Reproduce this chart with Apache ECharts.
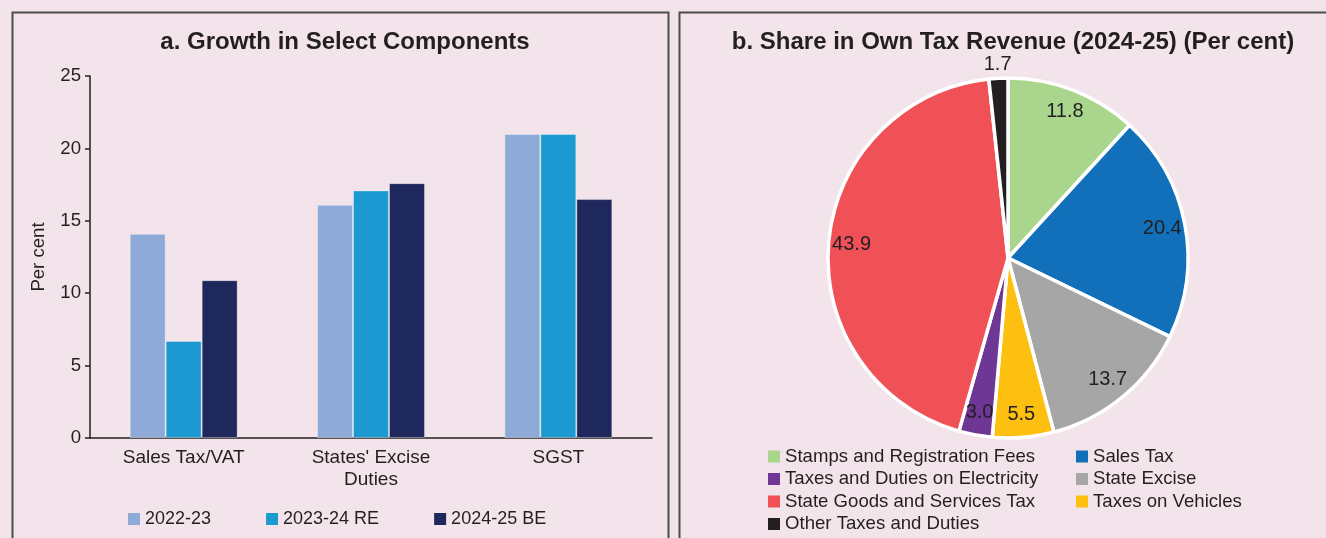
<!DOCTYPE html>
<html><head><meta charset="utf-8">
<script src="https://cdn.jsdelivr.net/npm/echarts@6/dist/echarts.min.js"></script>
<style>html,body{margin:0;padding:0;background:#f2e4ea;}#c{width:1326px;height:538px;}</style>
</head><body><div id="c"></div>
<script>
// ---- Data ----
const barCategories = ['Sales Tax/VAT', "States' Excise\nDuties", 'SGST'];
const barSeriesNames = ['2022-23', '2023-24 RE', '2024-25 BE'];
const growth2022_23 = [14.1, 16.1, 21.0];
const growth2023_24RE = [6.7, 17.1, 21.0];
const growth2024_25BE = [10.9, 17.6, 16.5];
const yAxisMin = 0, yAxisMax = 25, yAxisStep = 5;

const pieNames = ['Stamps and Registration Fees', 'Sales Tax', 'State Excise', 'Taxes on Vehicles',
  'Taxes and Duties on Electricity', 'State Goods and Services Tax', 'Other Taxes and Duties'];
const pieShares = [11.8, 20.4, 13.7, 5.5, 3.0, 43.9, 1.7];
const pieLegendCol1 = ['Stamps and Registration Fees', 'Taxes and Duties on Electricity', 'State Goods and Services Tax', 'Other Taxes and Duties'];
const pieLegendCol2 = ['Sales Tax', 'State Excise', 'Taxes on Vehicles'];

// ---- Styles ----
const barColors = ['#8eabd7', '#1c99d0', '#1f285c'];
const pieColors = ['#a9d58d', '#1170b9', '#a6a6a6', '#fdc010', '#6e3695', '#ef5156', '#231f20'];
const FONT = 'Liberation Sans, Arial, Helvetica, sans-serif';
const TXT = '#231f20';

const barData = [growth2022_23, growth2023_24RE, growth2024_25BE];

const chart = echarts.init(document.getElementById('c'), null, {renderer: 'canvas'});
const pieLegendBase = {orient: 'vertical', top: 447, padding: 0, height: 120, itemWidth: 12, itemHeight: 12, itemGap: 3.5, icon: 'rect',
  itemStyle: {borderWidth: 0},
  textStyle: {fontFamily: FONT, fontSize: 18.6, color: TXT, lineHeight: 18}};
const option = {
  backgroundColor: '#f2e4ea',
  animation: false,
  textStyle: {fontFamily: FONT, color: TXT},
  graphic: [
    {type: 'rect', shape: {x: 12.5, y: 12.5, width: 656, height: 560}, style: {fill: 'none', stroke: '#4d4d4d', lineWidth: 2}, silent: true},
    {type: 'rect', shape: {x: 679.5, y: 12.5, width: 700, height: 560}, style: {fill: 'none', stroke: '#4d4d4d', lineWidth: 2}, silent: true}
  ],
  title: [
    {text: 'a. Growth in Select Components', left: 340, textAlign: 'center', top: 25,
      textStyle: {fontFamily: FONT, fontSize: 24, fontWeight: 'bold', color: TXT}},
    {text: 'b. Share in Own Tax Revenue (2024-25) (Per cent)', left: 1008, textAlign: 'center', top: 25,
      textStyle: {fontFamily: FONT, fontSize: 24, fontWeight: 'bold', color: TXT}}
  ],
  legend: [
    {data: barSeriesNames, left: 128, top: 510, padding: 0, itemWidth: 12, itemHeight: 12, itemGap: 55, icon: 'rect',
      itemStyle: {borderWidth: 0},
      textStyle: {fontFamily: FONT, fontSize: 18, color: TXT}},
    Object.assign({data: pieLegendCol1, left: 768}, pieLegendBase),
    Object.assign({data: pieLegendCol2, left: 1076}, pieLegendBase)
  ],
  grid: {left: 90, right: 674, top: 76, bottom: 100, containLabel: false},
  xAxis: {
    type: 'category', data: barCategories,
    axisLine: {lineStyle: {color: TXT, width: 1.5}},
    axisTick: {show: false},
    axisLabel: {fontFamily: FONT, fontSize: 19, color: TXT, margin: 9, lineHeight: 22}
  },
  yAxis: {
    type: 'value', min: yAxisMin, max: yAxisMax, interval: yAxisStep,
    name: 'Per cent', nameLocation: 'middle', nameGap: 42, nameRotate: 90,
    nameTextStyle: {fontFamily: FONT, fontSize: 18.6, color: TXT},
    axisLine: {show: true, lineStyle: {color: TXT, width: 1.5}},
    axisTick: {show: true, length: 5, lineStyle: {color: TXT, width: 1.5}},
    splitLine: {show: false},
    axisLabel: {fontFamily: FONT, fontSize: 18.6, color: TXT, margin: 9}
  },
  series: [
    ...barSeriesNames.map((n, i) => ({
      type: 'bar', name: n, data: barData[i], barWidth: 36, barGap: '0%',
      itemStyle: {color: barColors[i], borderColor: 'rgba(255,255,255,0.35)', borderWidth: 1}
    })),
    {
      type: 'pie', name: 'share', center: [1008, 258], radius: 180,
      startAngle: 90, clockwise: true, avoidLabelOverlap: false,
      label: {show: false}, labelLine: {show: false},
      itemStyle: {borderColor: '#ffffff', borderWidth: 3.5},
      emphasis: {disabled: true},
      data: pieNames.map((n, i) => ({name: n, value: pieShares[i], itemStyle: {color: pieColors[i]}}))
    },
    {
      type: 'pie', name: 'labels', center: [1008, 258], radius: [0, 308],
      startAngle: 90, clockwise: true, avoidLabelOverlap: false, silent: true,
      itemStyle: {color: 'rgba(0,0,0,0)', borderWidth: 0},
      emphasis: {disabled: true},
      labelLine: {show: false},
      label: {show: true, position: 'inside', fontFamily: FONT, fontSize: 20, color: TXT,
        formatter: p => p.value.toFixed(1)},
      data: pieNames.map((n, i) => ({
        name: n, value: pieShares[i],
        label: i === pieNames.length - 1 ? {offset: [-2, -37]} : undefined
      }))
    }
  ]
};
chart.setOption(option);
</script></body></html>
